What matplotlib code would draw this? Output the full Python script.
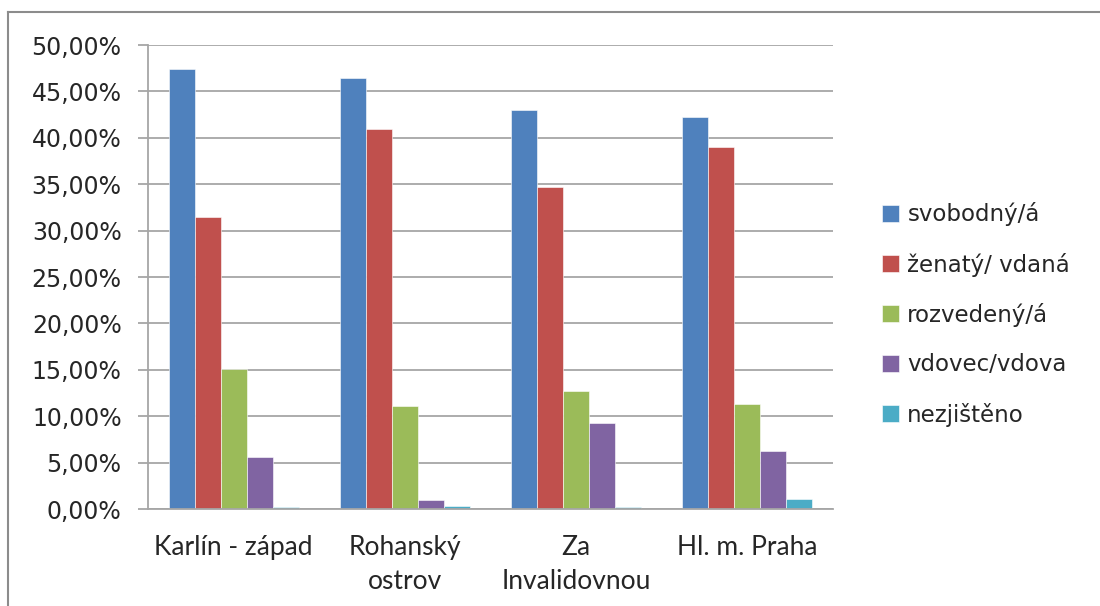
import matplotlib
matplotlib.use("Agg")
import matplotlib.pyplot as plt
import numpy as np
from matplotlib.ticker import FuncFormatter
from matplotlib.lines import Line2D

categories = ["Karlín - západ", "Rohanský\nostrov", "Za\nInvalidovnou", "Hl. m. Praha"]
series_names = ["svobodný/á", "ženatý/ vdaná", "rozvedený/á", "vdovec/vdova", "nezjištěno"]
svobodny = [47.4, 46.4, 43.0, 42.2]
zenaty = [31.5, 40.9, 34.7, 39.0]
rozvedeny = [15.1, 11.1, 12.7, 11.3]
vdovec = [5.6, 1.0, 9.3, 6.3]
nezjisteno = [0.17, 0.32, 0.17, 1.03]
colors = ["#4F81BD", "#C0504D", "#9BBB59", "#8064A2", "#4BACC6"]

series = [svobodny, zenaty, rozvedeny, vdovec, nezjisteno]

fig = plt.figure(figsize=(11, 6.06), dpi=100)
ax = fig.add_axes([148/1100, 1-509/606, (833-148)/1100, (509-45)/606])

x = np.arange(len(categories))
w = 0.152
for i, (vals, name, c) in enumerate(zip(series, series_names, colors)):
    ax.bar(x + (i - 2) * w, vals, width=w, color=c, label=name,
           edgecolor="white", linewidth=0.4)

ax.set_xlim(-0.5, len(categories) - 0.5)
ax.set_ylim(0, 50)
ax.set_yticks(np.arange(0, 50.1, 5))
ax.yaxis.set_major_formatter(FuncFormatter(lambda v, p: f"{v:.2f}".replace(".", ",") + "%"))
ax.grid(axis="y", color="#a6a6a6", linewidth=1.3)
ax.set_axisbelow(True)
for s in ["top", "right"]:
    ax.spines[s].set_visible(False)
for s in ["left", "bottom"]:
    ax.spines[s].set_color("#a6a6a6")
    ax.spines[s].set_linewidth(1.3)
ax.tick_params(axis="y", length=7, width=1.3, color="#a6a6a6", labelsize=17,
               labelcolor="#262626", pad=12)
ax.tick_params(axis="x", length=0, labelsize=19, labelcolor="#262626", pad=19)
ax.set_xticks(x)
ax.set_xticklabels(categories, fontfamily="Lato", linespacing=1.45)

leg = fig.legend(loc="upper left", bbox_to_anchor=(873/1100, 1-193/606), frameon=False,
                 fontsize=16.5, handlelength=0.75, handleheight=0.75, handletextpad=0.35,
                 labelspacing=1.15, borderaxespad=0)
for t in leg.get_texts():
    t.set_color("#262626")

# outer chart frame (top and left edges)
fig.add_artist(Line2D([8/1100, 8/1100], [0, 1-12/606], transform=fig.transFigure,
                      color="#8c8c8c", linewidth=1.5))
fig.add_artist(Line2D([8/1100, 1], [1-12/606, 1-12/606], transform=fig.transFigure,
                      color="#8c8c8c", linewidth=1.5))

fig.savefig("out.png", dpi=100)
